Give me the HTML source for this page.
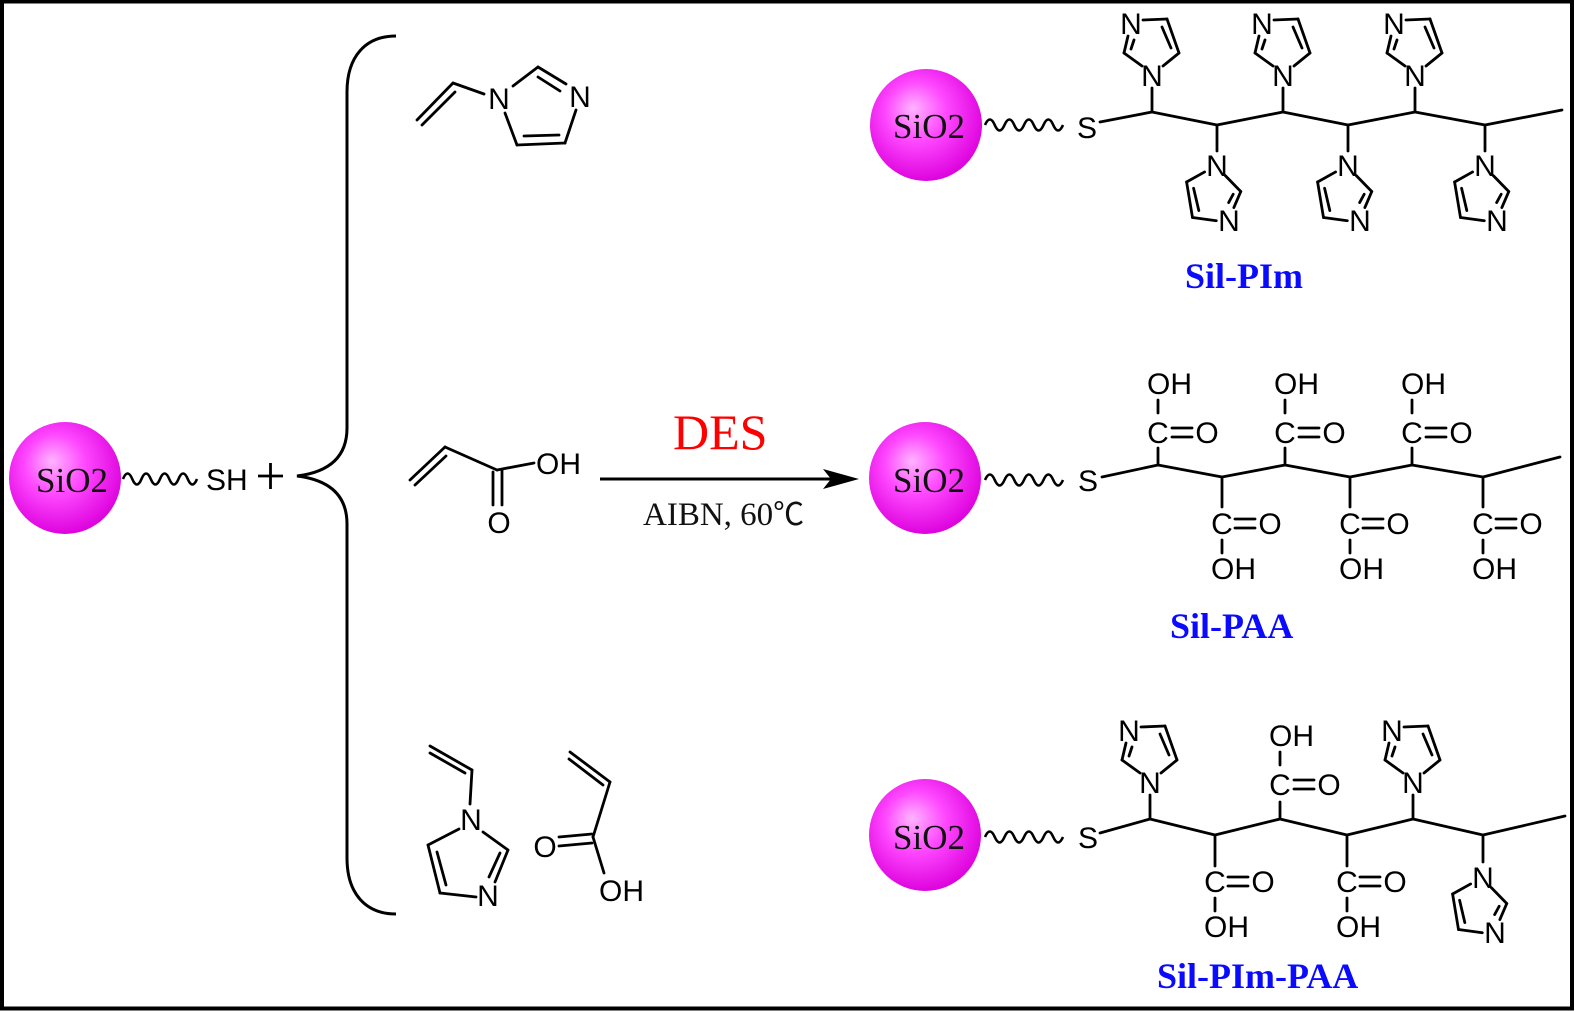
<!DOCTYPE html>
<html>
<head>
<meta charset="utf-8">
<style>
html,body{margin:0;padding:0;background:#fff;width:1575px;height:1012px;overflow:hidden;}
svg{display:block;}
.a{font-family:"Liberation Sans",Arial,sans-serif;font-size:30px;fill:#000;}
.m{text-anchor:middle;}
.s{font-family:"Liberation Serif","Times New Roman",serif;font-size:35px;fill:#111;text-anchor:middle;}
.lab{font-family:"Liberation Serif","Times New Roman",serif;font-size:36px;font-weight:bold;fill:#0a0aff;}
</style>
</head>
<body>
<svg width="1575" height="1012" viewBox="0 0 1575 1012" xmlns="http://www.w3.org/2000/svg">
<defs>
<radialGradient id="g" cx="0.45" cy="0.42" r="0.6" fx="0.38" fy="0.35">
<stop offset="0" stop-color="#ffb4ff"/>
<stop offset="0.45" stop-color="#ff48ff"/>
<stop offset="1" stop-color="#dc00dc"/>
</radialGradient>
<g id="imU" stroke="#000" stroke-width="2.8" fill="none" stroke-linecap="round">
<line x1="-10" y1="-9" x2="-28" y2="-22"/>
<line x1="-28" y1="-22" x2="-24" y2="-39"/>
<line x1="-21" y1="-26" x2="-18" y2="-35"/>
<line x1="-9" y1="-55" x2="15" y2="-56"/>
<line x1="15" y1="-56" x2="27" y2="-22"/>
<line x1="10" y1="-48" x2="19" y2="-27"/>
<line x1="27" y1="-22" x2="11" y2="-9"/>
</g>
</defs>

<rect x="0" y="0" width="1575" height="1012" fill="#fff"/>
<!-- frame -->
<path d="M2,1.5 H1572 V1008.5 H2 Z" fill="none" stroke="#000" stroke-width="4"/>

<!-- LEFT: SiO2-SH -->
<circle cx="65" cy="478" r="56" fill="url(#g)"/>
<text class="s" x="72" y="492">SiO2</text>
<path d="M123,479 q4.6,-11 9.25,0 t9.25,0 t9.25,0 t9.25,0 t9.25,0 t9.25,0 t9.25,0 t9.25,0" fill="none" stroke="#000" stroke-width="2.6"/>
<text class="a" x="206" y="490">SH</text>
<g stroke="#000" stroke-width="2.8">
<line x1="258" y1="476" x2="283" y2="476"/>
<line x1="270.5" y1="463" x2="270.5" y2="489"/>
</g>

<!-- brace -->
<path d="M396,36 C366,36 347,56 347,92 L347,428 C347,456 330,472 297,476 C330,480 347,496 347,524 L347,858 C347,894 366,914 396,914" fill="none" stroke="#000" stroke-width="3"/>

<!-- top vinylimidazole -->
<g stroke="#000" stroke-width="2.8" fill="none" stroke-linecap="round">
<line x1="417" y1="120" x2="453" y2="83"/>
<line x1="422" y1="125" x2="455" y2="92"/>
<line x1="453" y1="83" x2="484" y2="94"/>
<line x1="513" y1="86" x2="538" y2="67"/>
<line x1="538" y1="67" x2="566" y2="84"/>
<line x1="538" y1="77" x2="560" y2="91"/>
<line x1="576" y1="110" x2="565" y2="143"/>
<line x1="565" y1="143" x2="517" y2="145"/>
<line x1="524" y1="136" x2="559" y2="135"/>
<line x1="517" y1="145" x2="505" y2="113"/>
</g>
<text class="a m" x="499" y="109">N</text>
<text class="a m" x="580" y="107">N</text>

<!-- middle acrylic acid -->
<g stroke="#000" stroke-width="2.8" fill="none" stroke-linecap="round">
<line x1="410" y1="480" x2="445" y2="447"/>
<line x1="415" y1="485" x2="446" y2="456"/>
<line x1="445" y1="447" x2="497" y2="470"/>
<line x1="497" y1="470" x2="534" y2="463"/>
<line x1="493" y1="472" x2="493" y2="505"/>
<line x1="502" y1="470" x2="502" y2="505"/>
</g>
<text class="a" x="536" y="474">OH</text>
<text class="a m" x="499" y="533">O</text>

<!-- arrow -->
<line x1="600" y1="479" x2="835" y2="479" stroke="#000" stroke-width="3"/>
<polygon points="859,479 823,469 831,479 823,489" fill="#000"/>
<text x="673" y="449" style="font-family:'Liberation Serif','Times New Roman',serif;font-size:50px;fill:#ff0000;">DES</text>
<text x="643" y="525" style="font-family:'Liberation Serif','Times New Roman',serif;font-size:33px;fill:#111;">AIBN, 60<tspan style="font-family:'Noto Sans CJK SC','Liberation Sans',sans-serif;font-size:31px;">℃</tspan></text>

<!-- bottom vinylimidazole -->
<g stroke="#000" stroke-width="2.8" fill="none" stroke-linecap="round">
<line x1="430" y1="746" x2="472" y2="770"/>
<line x1="430" y1="753" x2="465" y2="773"/>
<line x1="472" y1="770" x2="470" y2="804"/>
<line x1="459" y1="829" x2="428" y2="845"/>
<line x1="428" y1="845" x2="440" y2="893"/>
<line x1="437" y1="852" x2="446" y2="885"/>
<line x1="440" y1="893" x2="476" y2="897"/>
<line x1="495" y1="882" x2="508" y2="850"/>
<line x1="489" y1="877" x2="500" y2="853"/>
<line x1="508" y1="850" x2="483" y2="832"/>
</g>
<text class="a m" x="471" y="830">N</text>
<text class="a m" x="488" y="906">N</text>

<!-- bottom acrylic acid -->
<g stroke="#000" stroke-width="2.8" fill="none" stroke-linecap="round">
<line x1="570" y1="752" x2="610" y2="782"/>
<line x1="569" y1="759" x2="603" y2="785"/>
<line x1="610" y1="782" x2="593" y2="837"/>
<line x1="592" y1="834" x2="559" y2="837"/>
<line x1="592" y1="843" x2="559" y2="846"/>
<line x1="593" y1="837" x2="604" y2="873"/>
</g>
<text class="a m" x="545" y="857">O</text>
<text class="a" x="599" y="901">OH</text>

<!-- ===== TOP POLYMER: Sil-PIm ===== -->
<circle cx="926" cy="125" r="56" fill="url(#g)"/>
<text class="s" x="929" y="138">SiO2</text>
<path d="M985,125 q4.9,-11 9.75,0 t9.75,0 t9.75,0 t9.75,0 t9.75,0 t9.75,0 t9.75,0 t9.75,0" fill="none" stroke="#000" stroke-width="2.6"/>
<text class="a m" x="1087" y="138">S</text>
<g stroke="#000" stroke-width="2.8" fill="none" stroke-linecap="round" stroke-linejoin="round">
<polyline points="1100,122 1152,112 1217,125 1283,112 1348,125 1415,112 1485,125 1562,110"/>
<line x1="1152" y1="112" x2="1152" y2="88"/>
<line x1="1283" y1="112" x2="1283" y2="88"/>
<line x1="1415" y1="112" x2="1415" y2="88"/>
<line x1="1217" y1="125" x2="1217" y2="151"/>
<line x1="1348" y1="125" x2="1348" y2="151"/>
<line x1="1485" y1="125" x2="1485" y2="151"/>
</g>
<use href="#imU" transform="translate(1152,75)"/>
<use href="#imU" transform="translate(1283,75)"/>
<use href="#imU" transform="translate(1415,75)"/>
<use href="#imU" transform="translate(1217,165) rotate(190)"/>
<use href="#imU" transform="translate(1348,165) rotate(190)"/>
<use href="#imU" transform="translate(1485,165) rotate(190)"/>
<text class="a m" x="1152" y="86">N</text>
<text class="a m" x="1131" y="34">N</text>
<text class="a m" x="1283" y="86">N</text>
<text class="a m" x="1262" y="34">N</text>
<text class="a m" x="1415" y="86">N</text>
<text class="a m" x="1394" y="34">N</text>
<text class="a m" x="1217" y="176">N</text>
<text class="a m" x="1229" y="231">N</text>
<text class="a m" x="1348" y="176">N</text>
<text class="a m" x="1360" y="231">N</text>
<text class="a m" x="1485" y="176">N</text>
<text class="a m" x="1497" y="231">N</text>
<text class="lab" x="1185" y="288">Sil-PIm</text>

<!-- ===== MIDDLE POLYMER: Sil-PAA ===== -->
<circle cx="925" cy="478" r="56" fill="url(#g)"/>
<text class="s" x="929" y="492">SiO2</text>
<path d="M985,480 q4.9,-11 9.75,0 t9.75,0 t9.75,0 t9.75,0 t9.75,0 t9.75,0 t9.75,0 t9.75,0" fill="none" stroke="#000" stroke-width="2.6"/>
<text class="a m" x="1088" y="491">S</text>
<g stroke="#000" stroke-width="2.8" fill="none" stroke-linecap="round" stroke-linejoin="round">
<polyline points="1102,477 1158,465 1222,477 1285,465 1350,477 1412,465 1483,477 1560,457"/>
<!-- up COOH -->
<line x1="1158" y1="465" x2="1158" y2="448"/><line x1="1172" y1="428" x2="1192" y2="428"/><line x1="1172" y1="437" x2="1192" y2="437"/><line x1="1158" y1="400" x2="1158" y2="413"/>
<line x1="1285" y1="465" x2="1285" y2="448"/><line x1="1299" y1="428" x2="1319" y2="428"/><line x1="1299" y1="437" x2="1319" y2="437"/><line x1="1285" y1="400" x2="1285" y2="413"/>
<line x1="1412" y1="465" x2="1412" y2="448"/><line x1="1426" y1="428" x2="1446" y2="428"/><line x1="1426" y1="437" x2="1446" y2="437"/><line x1="1412" y1="400" x2="1412" y2="413"/>
<!-- down COOH -->
<line x1="1222" y1="477" x2="1222" y2="507"/><line x1="1235" y1="519" x2="1255" y2="519"/><line x1="1235" y1="528" x2="1255" y2="528"/><line x1="1222" y1="540" x2="1222" y2="553"/>
<line x1="1350" y1="477" x2="1350" y2="507"/><line x1="1363" y1="519" x2="1383" y2="519"/><line x1="1363" y1="528" x2="1383" y2="528"/><line x1="1350" y1="540" x2="1350" y2="553"/>
<line x1="1483" y1="477" x2="1483" y2="507"/><line x1="1496" y1="519" x2="1516" y2="519"/><line x1="1496" y1="528" x2="1516" y2="528"/><line x1="1483" y1="540" x2="1483" y2="553"/>
</g>
<text class="a m" x="1158" y="443">C</text><text class="a m" x="1207" y="443">O</text><text class="a" x="1147" y="394">OH</text>
<text class="a m" x="1285" y="443">C</text><text class="a m" x="1334" y="443">O</text><text class="a" x="1274" y="394">OH</text>
<text class="a m" x="1412" y="443">C</text><text class="a m" x="1461" y="443">O</text><text class="a" x="1401" y="394">OH</text>
<text class="a m" x="1222" y="534">C</text><text class="a m" x="1270" y="534">O</text><text class="a" x="1211" y="579">OH</text>
<text class="a m" x="1350" y="534">C</text><text class="a m" x="1398" y="534">O</text><text class="a" x="1339" y="579">OH</text>
<text class="a m" x="1483" y="534">C</text><text class="a m" x="1531" y="534">O</text><text class="a" x="1472" y="579">OH</text>
<text class="lab" x="1170" y="638">Sil-PAA</text>

<!-- ===== BOTTOM POLYMER: Sil-PIm-PAA ===== -->
<circle cx="925" cy="835" r="56" fill="url(#g)"/>
<text class="s" x="929" y="849">SiO2</text>
<path d="M985,837 q4.9,-11 9.75,0 t9.75,0 t9.75,0 t9.75,0 t9.75,0 t9.75,0 t9.75,0 t9.75,0" fill="none" stroke="#000" stroke-width="2.6"/>
<text class="a m" x="1088" y="848">S</text>
<g stroke="#000" stroke-width="2.8" fill="none" stroke-linecap="round" stroke-linejoin="round">
<polyline points="1100,833 1150,819 1215,835 1280,819 1347,835 1413,819 1483,835 1565,816"/>
<line x1="1150" y1="819" x2="1150" y2="795"/>
<line x1="1413" y1="819" x2="1413" y2="795"/>
<line x1="1483" y1="835" x2="1483" y2="862"/>
<!-- up COOH at 1280 -->
<line x1="1280" y1="819" x2="1280" y2="802"/><line x1="1294" y1="780" x2="1314" y2="780"/><line x1="1294" y1="789" x2="1314" y2="789"/><line x1="1280" y1="752" x2="1280" y2="765"/>
<!-- down COOH -->
<line x1="1215" y1="835" x2="1215" y2="866"/><line x1="1228" y1="877" x2="1248" y2="877"/><line x1="1228" y1="886" x2="1248" y2="886"/><line x1="1215" y1="898" x2="1215" y2="911"/>
<line x1="1347" y1="835" x2="1347" y2="866"/><line x1="1360" y1="877" x2="1380" y2="877"/><line x1="1360" y1="886" x2="1380" y2="886"/><line x1="1347" y1="898" x2="1347" y2="911"/>
</g>
<use href="#imU" transform="translate(1150,782)"/>
<use href="#imU" transform="translate(1413,782)"/>
<use href="#imU" transform="translate(1483,877) rotate(190)"/>
<text class="a m" x="1150" y="793">N</text>
<text class="a m" x="1129" y="741">N</text>
<text class="a m" x="1413" y="793">N</text>
<text class="a m" x="1392" y="741">N</text>
<text class="a m" x="1483" y="888">N</text>
<text class="a m" x="1495" y="943">N</text>
<text class="a m" x="1280" y="795">C</text><text class="a m" x="1329" y="795">O</text><text class="a" x="1269" y="746">OH</text>
<text class="a m" x="1215" y="892">C</text><text class="a m" x="1263" y="892">O</text><text class="a" x="1204" y="937">OH</text>
<text class="a m" x="1347" y="892">C</text><text class="a m" x="1395" y="892">O</text><text class="a" x="1336" y="937">OH</text>
<text class="lab" x="1157" y="988">Sil-PIm-PAA</text>
</svg>
</body>
</html>
